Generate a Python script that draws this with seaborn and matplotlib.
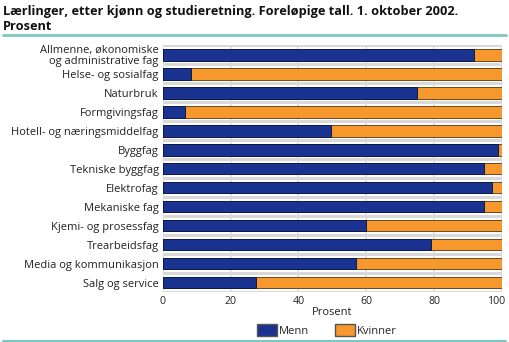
import matplotlib
matplotlib.use("Agg")
import matplotlib.pyplot as plt
import matplotlib.transforms as mtransforms
import seaborn as sns
import pandas as pd
from matplotlib.patches import Patch
from matplotlib.lines import Line2D

categories = [
    "Allmenne, økonomiske\nog administrative fag",
    "Helse- og sosialfag",
    "Naturbruk",
    "Formgivingsfag",
    "Hotell- og næringsmiddelfag",
    "Byggfag",
    "Tekniske byggfag",
    "Elektrofag",
    "Mekaniske fag",
    "Kjemi- og prosessfag",
    "Trearbeidsfag",
    "Media og kommunikasjon",
    "Salg og service",
]
menn = [91.7, 8.3, 75.0, 6.6, 49.7, 99.0, 94.8, 97.2, 94.6, 59.8, 79.2, 56.9, 27.5]
kvinner = [8.3, 91.7, 25.0, 93.4, 50.3, 1.0, 5.2, 2.8, 5.4, 40.2, 20.8, 43.1, 72.5]
xticks = [0, 20, 40, 60, 80, 100]

BLUE = "#1b3390"
ORANGE = "#f7982f"
TEAL = "#7cc6c4"

sns.set_theme(style="white")
plt.rcParams["font.family"] = ["Open Sans", "DejaVu Sans"]

df = pd.DataFrame({"cat": categories, "menn": menn, "kvinner": kvinner})
df["total"] = df["menn"] + df["kvinner"]

fig = plt.figure(figsize=(5.09, 3.42), dpi=100)
ax = fig.add_axes([0.320, 0.146, 0.666, 0.722])

sns.barplot(data=df, y="cat", x="total", color=ORANGE, orient="h", ax=ax,
            width=0.62, edgecolor="#6b4a20", linewidth=0.7, saturation=1)
sns.barplot(data=df, y="cat", x="menn", color=BLUE, orient="h", ax=ax,
            width=0.62, edgecolor="#0d1a4a", linewidth=0.7, saturation=1)

ax.set_xlim(0, 100)
ax.set_ylim(len(categories) - 0.5, -0.5)
ax.set_xticks(xticks)
ax.tick_params(axis="y", labelsize=8.0, colors="#222222", length=0, pad=3)
ax.tick_params(axis="x", length=0, pad=3)
ax.set_xticklabels([str(t) for t in xticks], fontsize=7.6, color="#222222")
last = ax.get_xticklabels()[-1]
last.set_transform(last.get_transform() + mtransforms.ScaledTranslation(-6 / 100, 0, fig.dpi_scale_trans))
for lab in ax.get_yticklabels():
    lab.set_linespacing(0.95)
ax.set_ylabel("")
ax.set_xlabel("Prosent", fontsize=8, color="#222222", labelpad=0)

# vertical grid
for t in xticks:
    ax.axvline(t, color="#dedede", lw=1.2, zorder=0)
# horizontal separators
for i in range(len(categories) + 1):
    ax.axhline(i - 0.5, color="#d9d9d9", lw=2.2, zorder=0)
for s in ax.spines.values():
    s.set_visible(False)

handles = [Patch(facecolor=BLUE, edgecolor="#555555", label="Menn"),
           Patch(facecolor=ORANGE, edgecolor="#555555", label="Kvinner")]
fig.legend(handles=handles, loc="center", bbox_to_anchor=(0.642, 0.034), ncol=2,
           frameon=False, fontsize=8, handlelength=1.8, handleheight=1.3,
           columnspacing=2.3, handletextpad=0.2)

fig.text(0.006, 0.985, "Lærlinger, etter kjønn og studieretning. Foreløpige tall. 1. oktober 2002.\nProsent",
         fontsize=9.2, fontweight="bold", va="top", ha="left", color="#111111", linespacing=1.15)
fig.add_artist(Line2D([0.006, 0.994], [0.897, 0.897], color=TEAL, lw=2))
fig.add_artist(Line2D([0.006, 0.994], [0.004, 0.004], color=TEAL, lw=1.5))

fig.savefig("out.png", dpi=100)
